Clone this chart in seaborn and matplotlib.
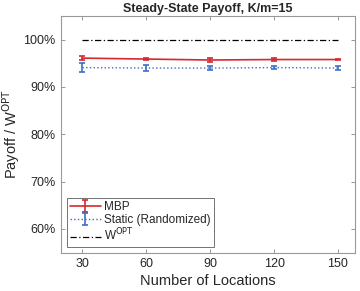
import matplotlib
matplotlib.use("Agg")
import matplotlib.pyplot as plt
import seaborn as sns
import pandas as pd
from matplotlib.ticker import FuncFormatter

locations = [30, 60, 90, 120, 150]
mbp = [96.1, 95.9, 95.7, 95.8, 95.8]
mbp_err = [0.4, 0.3, 0.35, 0.25, 0.2]
static = [94.1, 94.0, 94.0, 94.1, 94.0]
static_err = [0.9, 0.6, 0.5, 0.4, 0.4]
opt = [100, 100, 100, 100, 100]

sns.set_theme(style="white")
plt.rcParams['font.family'] = ['Liberation Sans', 'DejaVu Sans']

fig = plt.figure(figsize=(3.6, 2.91), dpi=100)
ax = fig.add_axes([0.170, 0.132, 0.816, 0.813])

red = '#d7282f'
blue = '#3b6fc6'

ax.errorbar(locations, mbp, yerr=mbp_err, color=red, lw=1.2, capsize=2.5,
            elinewidth=1.2, capthick=1.2, label='MBP', zorder=3)
ax.errorbar(locations, static, yerr=static_err, color=blue, lw=1.0, ls=':',
            capsize=2.5, elinewidth=1.2, capthick=1.2, label='Static (Randomized)', zorder=3)
df = pd.DataFrame({'x': locations, 'y': opt})
sns.lineplot(data=df, x='x', y='y', ax=ax, color='black', lw=0.9,
             dashes=False, label='W$^{\\mathrm{OPT}}$')
ax.lines[-1].set_dashes((5, 2, 1, 2))

ax.set_xlim(20, 158)
ax.set_ylim(55, 105)
ax.set_xticks(locations)
ax.set_yticks([60, 70, 80, 90, 100])
ax.yaxis.set_major_formatter(FuncFormatter(lambda v, p: f"{int(v)}%"))
ax.tick_params(direction='in', length=3, width=0.6, color='#888888',
               labelsize=9, labelcolor='#262626', top=True, right=True,
               bottom=True, left=True, pad=4)
for s in ax.spines.values():
    s.set_color('#999999')
    s.set_linewidth(0.8)

ax.set_xlabel('Number of Locations', fontsize=10.5, color='#262626', labelpad=3)
ax.set_ylabel('Payoff / W$^{\\mathrm{OPT}}$', fontsize=10.5, color='#262626')
ax.yaxis.set_label_coords(-0.135, 0.5)
ax.set_title('Steady-State Payoff, K/m=15', fontsize=9, fontweight='bold', pad=3)

handles, labels = ax.get_legend_handles_labels()
order = [labels.index('MBP'), labels.index('Static (Randomized)'), labels.index('W$^{\\mathrm{OPT}}$')]
leg = ax.legend([handles[i] for i in order], [labels[i] for i in order],
                loc='lower left', fontsize=8.5, frameon=True, fancybox=False,
                edgecolor='#333333', borderpad=0.25, labelspacing=0.1,
                handlelength=2.6, handletextpad=0.3, borderaxespad=0.5)
leg.get_frame().set_linewidth(0.6)

fig.savefig('out.png', dpi=100)
